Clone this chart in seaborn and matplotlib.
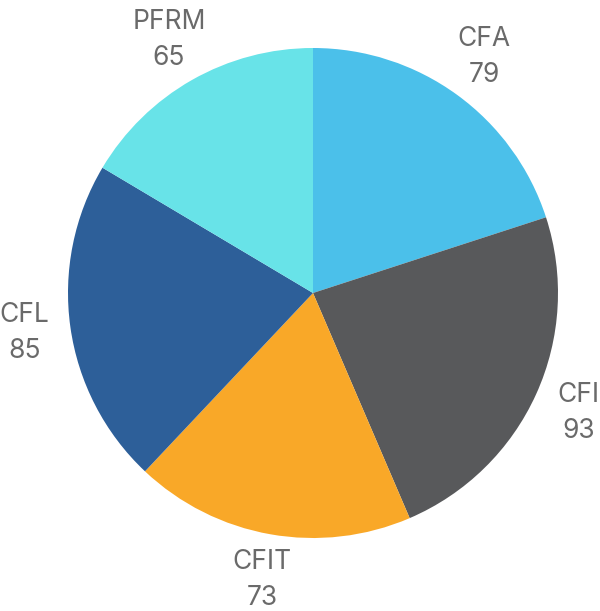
import matplotlib
matplotlib.use("Agg")
import matplotlib.pyplot as plt
import seaborn as sns

## data ##
labels = ['CFA', 'CFI', 'CFIT', 'CFL', 'PFRM']
values = [79, 93, 73, 85, 65]
colors = ['#4BC0EA', '#58595B', '#F9A828', '#2D5F99', '#68E3E8']

sns.set_style('white')
plt.rcParams['font.family'] = ['Inter', 'DejaVu Sans']

fig = plt.figure(figsize=(6, 6.11), dpi=100)
ax = fig.add_axes([0, 0, 1, 1])

texts = [f'{l}\n{v}' for l, v in zip(labels, values)]
wedges, txts = ax.pie(values, labels=texts, colors=sns.color_palette(colors),
                      startangle=90, counterclock=False, labeldistance=1.19,
                      wedgeprops=dict(linewidth=0),
                      textprops=dict(fontsize=19, color='#6a6a6a', fontweight='normal',
                                     linespacing=1.5))
for t in txts:
    t.set_ha('center')
    t.set_va('center')

## pie centred at (313, 293) px, radius 245 px ##
r_px = 245
ax.set_aspect('auto')
ax.set_xlim(-313 / r_px, (600 - 313) / r_px)
ax.set_ylim(-(611 - 293) / r_px, 293 / r_px)
ax.axis('off')

fig.savefig('out.png', dpi=100)
